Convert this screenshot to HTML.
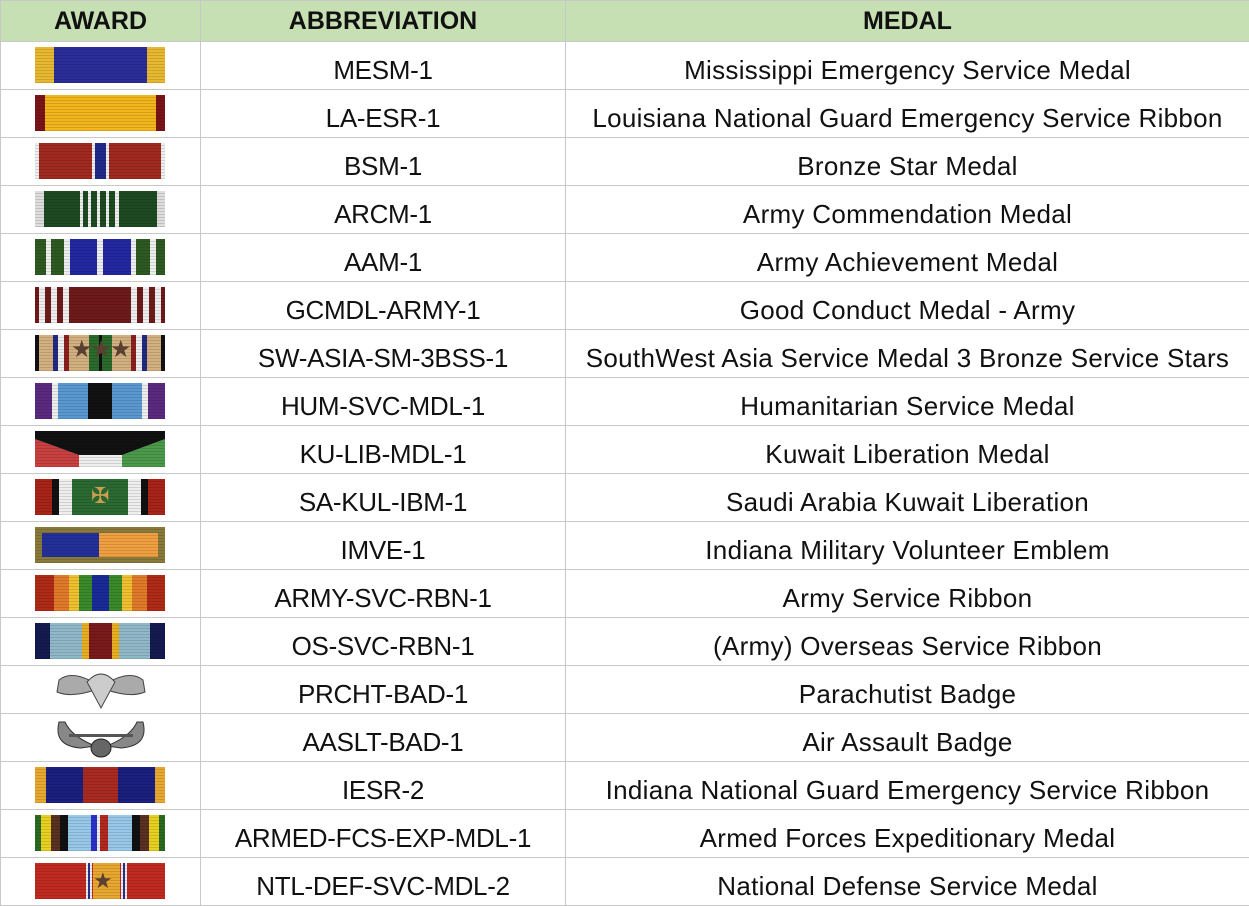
<!DOCTYPE html>
<html><head><meta charset="utf-8"><style>
body{margin:0;width:1249px;height:904px;overflow:hidden;background:#fff;font-family:"Liberation Sans",Arial,sans-serif;}
table{border-collapse:collapse;position:absolute;left:0;top:0;width:1249px;table-layout:fixed}
td,th{border:1px solid #c8c8c8;text-align:center;padding:0;font-size:26px;letter-spacing:0.3px;color:#111;height:47px;position:relative;box-sizing:border-box}
td{padding-top:9px;line-height:38px;vertical-align:middle}
td:nth-child(2){letter-spacing:-0.3px}
th{background:#c6e0b4;height:41px;font-weight:bold;font-size:25px;letter-spacing:0}
.r{position:absolute;left:34px;top:5px;width:130px;height:36px}
.r::after{content:"";position:absolute;inset:0;background:repeating-linear-gradient(0deg,rgba(0,0,0,0.12) 0 1px,transparent 1px 3px)}
</style></head><body>
<table>
<colgroup><col style="width:200px"><col style="width:365px"><col style="width:684px"></colgroup>
<tr><th>AWARD</th><th>ABBREVIATION</th><th>MEDAL</th></tr>
<tr><td><div class="r" style="background:linear-gradient(90deg,#e8b830 0 19px,#2a2e98 19px 112px,#e8b830 112px)"></div></td><td>MESM-1</td><td>Mississippi Emergency Service Medal</td></tr>
<tr><td><div class="r" style="background:linear-gradient(90deg,#7a1418 0 10px,#f2b51c 10px 121px,#7a1418 121px)"></div></td><td>LA-ESR-1</td><td>Louisiana National Guard Emergency Service Ribbon</td></tr>
<tr><td><div class="r" style="background:linear-gradient(90deg,#eee 0 4px,#a02a20 4px 57px,#eee 57px 60px,#202a8a 60px 71px,#eee 71px 74px,#a02a20 74px 126px,#eee 126px)"></div></td><td>BSM-1</td><td>Bronze Star Medal</td></tr>
<tr><td><div class="r" style="background:linear-gradient(90deg,#ddd 0 9px,#1e4a22 9px 45px,#eee 45px 48px,#1e4a22 48px 53px,#eee 53px 56px,#1e4a22 56px 62px,#eee 62px 65px,#1e4a22 65px 71px,#eee 71px 74px,#1e4a22 74px 80px,#eee 80px 84px,#1e4a22 84px 122px,#ddd 122px)"></div></td><td>ARCM-1</td><td>Army Commendation Medal</td></tr>
<tr><td><div class="r" style="background:linear-gradient(90deg,#2e5a22 0 11px,#eee 11px 16px,#2e5a22 16px 29px,#eee 29px 35px,#2228a0 35px 62px,#eee 62px 68px,#2228a0 68px 96px,#eee 96px 101px,#2e5a22 101px 115px,#eee 115px 121px,#2e5a22 121px)"></div></td><td>AAM-1</td><td>Army Achievement Medal</td></tr>
<tr><td><div class="r" style="background:linear-gradient(90deg,#6e1a1a 0 4px,#eee 4px 10px,#6e1a1a 10px 16px,#eee 16px 22px,#6e1a1a 22px 28px,#eee 28px 34px,#6e1a1a 34px 96px,#eee 96px 102px,#6e1a1a 102px 108px,#eee 108px 114px,#6e1a1a 114px 120px,#eee 120px 126px,#6e1a1a 126px)"></div></td><td>GCMDL-ARMY-1</td><td>Good Conduct Medal - Army</td></tr>
<tr><td><div class="r" style="background:linear-gradient(90deg,#111 0 4px,#d2b080 4px 18px,#222a80 18px 23px,#eee 23px 29px,#8a2020 29px 34px,#d2b080 34px 54px,#2a6a2a 54px 64px,#111 64px 67px,#2a6a2a 67px 77px,#d2b080 77px 96px,#8a2020 96px 101px,#eee 101px 107px,#222a80 107px 112px,#d2b080 112px 126px,#111 126px)"><span style="position:absolute;left:36px;top:-4px;color:#5a4030;font-size:24px;letter-spacing:-2px;z-index:1;line-height:38px">★★★</span></div></td><td>SW-ASIA-SM-3BSS-1</td><td>SouthWest Asia Service Medal 3 Bronze Service Stars</td></tr>
<tr><td><div class="r" style="background:linear-gradient(90deg,#5a2a80 0 17px,#eee 17px 23px,#5a98d0 23px 53px,#111 53px 77px,#5a98d0 77px 107px,#eee 107px 113px,#5a2a80 113px)"></div></td><td>HUM-SVC-MDL-1</td><td>Humanitarian Service Medal</td></tr>
<tr><td><div class="r" style="overflow:hidden;background:#fff"><svg width="130" height="36" style="position:absolute;left:0;top:0"><rect width="130" height="36" fill="#eee"/><polygon points="0,24 44,24 44,36 0,36" fill="#c84040"/><polygon points="0,8 44,24 0,24" fill="#c84040"/><polygon points="87,24 130,8 130,36 87,36" fill="#4a9a4a"/><polygon points="0,0 130,0 130,8 87,24 44,24 0,8" fill="#111"/></svg></div></td><td>KU-LIB-MDL-1</td><td>Kuwait Liberation Medal</td></tr>
<tr><td><div class="r" style="background:linear-gradient(90deg,#a82418 0 17px,#111 17px 24px,#eee 24px 37px,#2a6a32 37px 93px,#eee 93px 106px,#111 106px 113px,#a82418 113px)"><span style="position:absolute;left:56px;top:-2px;line-height:38px;color:#c8a050;font-size:22px;z-index:1">✠</span></div></td><td>SA-KUL-IBM-1</td><td>Saudi Arabia Kuwait Liberation</td></tr>
<tr><td><div class="r" style="background:#8a7a3a"><div style="position:absolute;left:7px;top:6px;width:116px;height:24px;background:linear-gradient(90deg,#24309a 0 57px,#f0a040 57px)"></div></div></td><td>IMVE-1</td><td>Indiana Military Volunteer Emblem</td></tr>
<tr><td><div class="r" style="background:linear-gradient(90deg,#b02a18 0 19px,#e07a28 19px 34px,#f0c030 34px 44px,#3a8a2a 44px 57px,#1a2a98 57px 74px,#3a8a2a 74px 87px,#f0c030 87px 97px,#e07a28 97px 112px,#b02a18 112px)"></div></td><td>ARMY-SVC-RBN-1</td><td>Army Service Ribbon</td></tr>
<tr><td><div class="r" style="background:linear-gradient(90deg,#141a50 0 15px,#90b8c8 15px 47px,#e8b020 47px 54px,#7a1a1a 54px 77px,#e8b020 77px 84px,#90b8c8 84px 115px,#141a50 115px)"></div></td><td>OS-SVC-RBN-1</td><td>(Army) Overseas Service Ribbon</td></tr>
<tr><td><svg width="100" height="44" style="position:absolute;left:50px;top:2px"><path d="M8,12 Q20,2 42,14 L44,22 Q20,30 6,24Z M92,12 Q80,2 58,14 L56,22 Q80,30 94,24Z" fill="#aaa" stroke="#444"/><path d="M36,14 Q50,-2 64,14 L50,40Z" fill="#ccc" stroke="#444"/></svg></td><td>PRCHT-BAD-1</td><td>Parachutist Badge</td></tr>
<tr><td><svg width="100" height="44" style="position:absolute;left:50px;top:2px"><path d="M8,6 Q2,30 30,32 L44,30 Q20,20 14,6Z M92,6 Q98,30 70,32 L56,30 Q80,20 86,6Z" fill="#888" stroke="#333"/><rect x="18" y="18" width="64" height="3" fill="#555"/><ellipse cx="50" cy="32" rx="10" ry="9" fill="#666" stroke="#222"/></svg></td><td>AASLT-BAD-1</td><td>Air Assault Badge</td></tr>
<tr><td><div class="r" style="background:linear-gradient(90deg,#e8a830 0 11px,#1a2080 11px 48px,#a82a20 48px 83px,#1a2080 83px 120px,#e8a830 120px)"></div></td><td>IESR-2</td><td>Indiana National Guard Emergency Service Ribbon</td></tr>
<tr><td><div class="r" style="background:linear-gradient(90deg,#2a6a22 0 6px,#e8d020 6px 16px,#5a3020 16px 25px,#111 25px 33px,#98c8e8 33px 56px,#2a30c8 56px 62px,#eee 62px 65px,#b02a20 65px 73px,#98c8e8 73px 97px,#111 97px 105px,#5a3020 105px 114px,#e8d020 114px 124px,#2a6a22 124px)"></div></td><td>ARMED-FCS-EXP-MDL-1</td><td>Armed Forces Expeditionary Medal</td></tr>
<tr><td><div class="r" style="background:linear-gradient(90deg,#c02a20 0 51px,#eee 51px 53px,#2a3090 53px 55px,#eee 55px 57px,#c02a20 57px 58px,#e8a830 58px 85px,#c02a20 85px 86px,#eee 86px 88px,#2a3090 88px 90px,#eee 90px 92px,#c02a20 92px)"><span style="position:absolute;left:58px;top:-1px;line-height:38px;color:#5a4030;font-size:22px;z-index:1">★</span></div></td><td>NTL-DEF-SVC-MDL-2</td><td>National Defense Service Medal</td></tr>
</table>
</body></html>
